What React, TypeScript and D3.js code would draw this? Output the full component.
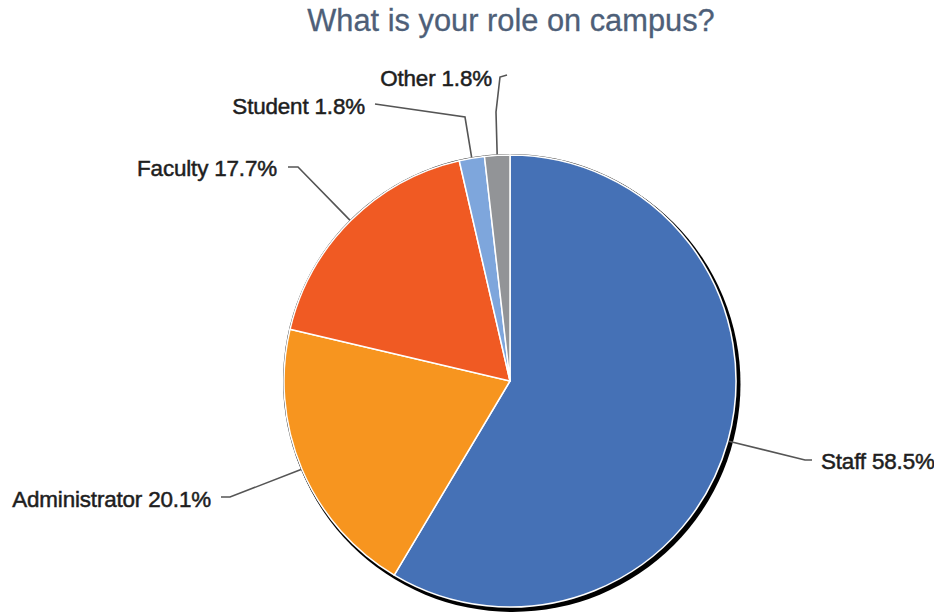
import React from "react";
import * as d3 from "d3";

const categories = ["Staff", "Administrator", "Faculty", "Student", "Other"];
const values = [58.5, 20.1, 17.7, 1.8, 1.8];
const colors = ["#4571b6", "#f7951f", "#f05a23", "#7ea6dc", "#929497"];
const title = "What is your role on campus?";

// label layout: elbow points and text anchors (layout, not data)
const labelLayout = [
  { pts: [[805, 460], [812, 460]], tx: 821, ty: 461, anchor: "start" },
  { pts: [[230, 497], [221, 497]], tx: 211, ty: 499, anchor: "end" },
  { pts: [[298, 167], [288, 167]], tx: 277, ty: 168, anchor: "end" },
  { pts: [[465, 117], [375, 104]], tx: 365, ty: 106, anchor: "end" },
  { pts: [[496, 112], [500, 77], [507, 75]], tx: 492, ty: 78, anchor: "end" },
];

const FONT = "'Liberation Sans', Arial, sans-serif";

export default function App() {
  const W = 934, H = 613;
  const cx = 510, cy = 381, r = 226;
  const pie = d3.pie<number>().sort(null).value((d) => d);
  const arcs = pie(values);
  const arc = d3.arc<d3.PieArcDatum<number>>().innerRadius(0).outerRadius(r);
  const fmt = d3.format(".1f");

  return (
    <svg width={W} height={H} style={{ position: "absolute", left: 0, top: 0 }}>
      <rect width={W} height={H} fill="#fff" />
      <text x={511} y={31} textAnchor="middle" fontFamily={FONT} fontSize={30.8} fill="#4e5f78" stroke="#4e5f78" strokeWidth={0.3}>
        {title}
      </text>
      <circle cx={cx + 2.5} cy={cy + 3} r={r + 2} fill="#000" />
      <circle cx={cx} cy={cy} r={r + 1} fill="#222" />
      <g transform={`translate(${cx},${cy})`}>
        {arcs.map((a, i) => (
          <path key={i} d={arc(a) || ""} fill={colors[i]} stroke="#fff" strokeWidth={1.5} strokeLinejoin="round" />
        ))}
      </g>
      {arcs.map((a, i) => {
        const mid = (a.startAngle + a.endAngle) / 2;
        const sx = cx + Math.sin(mid) * (r + 1);
        const sy = cy - Math.cos(mid) * (r + 1);
        const L = labelLayout[i];
        const pts = [[sx, sy], ...L.pts] as [number, number][];
        return (
          <g key={"l" + i}>
            <path d={d3.line()(pts) || ""} fill="none" stroke="#555" strokeWidth={1.6} />
            <text
              x={L.tx}
              y={L.ty}
              textAnchor={L.anchor as any}
              dominantBaseline="central"
              fontFamily={FONT}
              fontSize={22.4}
              fill="#1e1e1e"
              stroke="#1e1e1e"
              strokeWidth={0.5}
              letterSpacing={-0.15}
            >
              {`${categories[i]} ${fmt(values[i])}%`}
            </text>
          </g>
        );
      })}
    </svg>
  );
}
